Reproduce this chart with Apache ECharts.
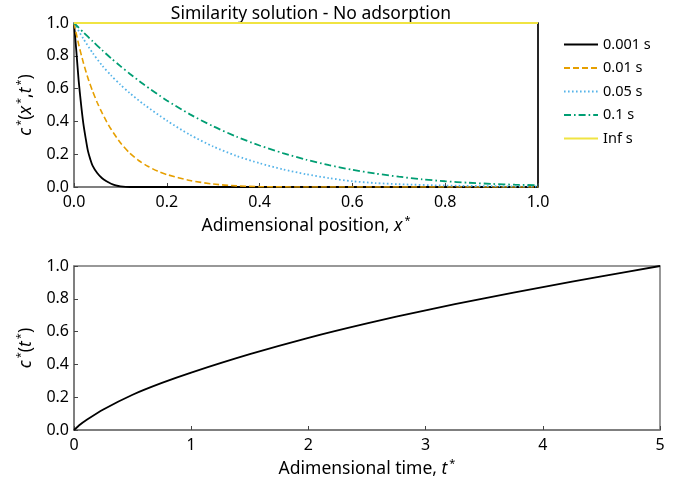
<!DOCTYPE html>
<html>
<head>
<meta charset="utf-8">
<script src="https://cdn.jsdelivr.net/npm/echarts@6/dist/echarts.min.js"></script>
<style>
  html, body { margin: 0; padding: 0; background: #fff; }
  #chart { width: 681px; height: 486px; }
</style>
</head>
<body>
<div id="chart"></div>
<script>
const FONT = 'Noto Sans';

// Concentration profiles c*(x*, t*) at several times
const seriesNames = ['0.001 s', '0.01 s', '0.05 s', '0.1 s', 'Inf s'];

const xT1 = [0, 0.005, 0.01, 0.015, 0.02, 0.025, 0.03, 0.035, 0.04, 0.05, 0.06, 0.07, 0.08, 0.09, 0.10, 0.12, 1.0];
const cT1 = [1.0, 0.83, 0.65, 0.51, 0.39, 0.30, 0.22, 0.17, 0.13, 0.085, 0.055, 0.035, 0.02, 0.01, 0.004, 0.0, 0.0];

const xT2 = [0, 0.01, 0.02, 0.03, 0.04, 0.05, 0.06, 0.07, 0.08, 0.10, 0.12, 0.14, 0.16, 0.18, 0.20, 0.25, 0.30, 0.35, 0.40, 0.50, 1.0];
const cT2 = [1.0, 0.87, 0.76, 0.665, 0.585, 0.515, 0.455, 0.40, 0.352, 0.27, 0.207, 0.16, 0.125, 0.097, 0.076, 0.04, 0.018, 0.007, 0.002, 0.0, 0.0];

const xT3 = [0, 0.02, 0.04, 0.06, 0.08, 0.10, 0.12, 0.15, 0.20, 0.25, 0.30, 0.35, 0.40, 0.45, 0.50, 0.55, 0.60, 0.65, 0.70, 0.80, 0.90, 1.0];
const cT3 = [1.0, 0.905, 0.818, 0.743, 0.680, 0.624, 0.573, 0.505, 0.405, 0.318, 0.247, 0.190, 0.145, 0.108, 0.078, 0.054, 0.035, 0.024, 0.017, 0.009, 0.005, 0.003];

const xT4 = [0, 0.02, 0.04, 0.06, 0.08, 0.10, 0.12, 0.15, 0.20, 0.25, 0.30, 0.35, 0.40, 0.45, 0.50, 0.55, 0.60, 0.65, 0.70, 0.75, 0.80, 0.85, 0.90, 0.95, 1.0];
const cT4 = [1.0, 0.944, 0.889, 0.836, 0.785, 0.737, 0.691, 0.626, 0.528, 0.443, 0.370, 0.307, 0.253, 0.207, 0.167, 0.133, 0.105, 0.082, 0.063, 0.047, 0.035, 0.026, 0.019, 0.014, 0.011];

const xInf = [0, 1.0];
const cInf = [1.0, 1.0];

// Concentration over time c*(t*)
const tValues = [0, 0.05, 0.1, 0.25, 0.5, 0.75, 1, 1.5, 2, 2.5, 3, 3.5, 4, 4.5, 5];
const cOfT = [0, 0.032, 0.058, 0.125, 0.215, 0.287, 0.35, 0.462, 0.562, 0.650, 0.730, 0.803, 0.871, 0.937, 1.0];

const pairs = (xs, ys) => xs.map((x, i) => [x, ys[i]]);

const frameColor = '#777';
const tickStyle = { show: true, inside: true, length: 4, lineStyle: { color: '#444', width: 1 } };
const labelStyle = { color: '#000', fontSize: 16, fontFamily: FONT };
const nameRich = {
  n: { fontSize: 17.5, fontFamily: FONT, color: '#000', lineHeight: 22 },
  i: { fontSize: 17.5, fontFamily: FONT, color: '#000', fontStyle: 'italic', lineHeight: 22 },
  s: { fontSize: 11, fontFamily: FONT, color: '#000', verticalAlign: 'top', lineHeight: 13, padding: [0, 0, 0, 2] }
};

const styles = [
  { color: '#000000', type: 'solid', width: 1.8 },
  { color: '#E69F00', type: [6, 3], width: 1.6 },
  { color: '#56B4E9', type: [1.6, 2.4], width: 1.8 },
  { color: '#009E73', type: [7, 3, 1.6, 3], width: 1.8 },
  { color: '#F0E442', type: 'solid', width: 1.8 }
];
const profileData = [pairs(xT1, cT1), pairs(xT2, cT2), pairs(xT3, cT3), pairs(xT4, cT4), pairs(xInf, cInf)];

const chart = echarts.init(document.getElementById('chart'), null, { renderer: 'canvas' });

chart.setOption({
  animation: false,
  backgroundColor: '#fff',
  title: {
    text: 'Similarity solution - No adsorption',
    left: 306, top: 0, textAlign: 'center',
    textStyle: { fontSize: 17.5, fontWeight: 'normal', fontFamily: FONT, color: '#000' }
  },
  legend: {
    orient: 'vertical', left: 563, top: 37, padding: 0,
    itemWidth: 34, itemHeight: 14, itemGap: 8.5,
    data: seriesNames,
    itemStyle: { opacity: 0 },
    textStyle: { fontSize: 14.5, fontFamily: FONT, color: '#000' }
  },
  grid: [
    { left: 74, top: 23, width: 464, height: 164, show: true, borderColor: frameColor, borderWidth: 1.5, backgroundColor: 'transparent' },
    { left: 74, top: 266, width: 586, height: 164, show: true, borderColor: frameColor, borderWidth: 1.5, backgroundColor: 'transparent' }
  ],
  xAxis: [
    {
      type: 'value', gridIndex: 0, min: 0, max: 1, interval: 0.2,
      axisLine: { show: true, onZero: false, lineStyle: { color: frameColor, width: 1.5 } },
      axisTick: tickStyle, splitLine: { show: false },
      axisLabel: Object.assign({ formatter: v => v.toFixed(1), margin: 7 }, labelStyle),
      name: '{n|Adimensional position, }{i|x}{s|*}', nameLocation: 'middle', nameGap: 28,
      nameTextStyle: { rich: nameRich }
    },
    {
      type: 'value', gridIndex: 1, min: 0, max: 5, interval: 1,
      axisLine: { show: true, onZero: false, lineStyle: { color: frameColor, width: 1.5 } },
      axisTick: tickStyle, splitLine: { show: false },
      axisLabel: Object.assign({ formatter: v => String(v), margin: 7 }, labelStyle),
      name: '{n|Adimensional time, }{i|t}{s|*}', nameLocation: 'middle', nameGap: 28,
      nameTextStyle: { rich: nameRich }
    }
  ],
  yAxis: [
    {
      type: 'value', gridIndex: 0, min: 0, max: 1, interval: 0.2,
      axisLine: { show: true, onZero: false, lineStyle: { color: frameColor, width: 1.5 } },
      axisTick: tickStyle, splitLine: { show: false },
      axisLabel: Object.assign({ formatter: v => v.toFixed(1), margin: 5 }, labelStyle),
      name: '{i|c}{s|*}{n|(}{i|x}{s|*}{n|,}{i|t}{s|*}{n|)}', nameLocation: 'middle', nameGap: 34,
      nameTextStyle: { rich: nameRich }
    },
    {
      type: 'value', gridIndex: 0, min: 0, max: 1, position: 'right',
      axisLine: { show: true, onZero: false, lineStyle: { color: '#000', width: 1.5 } },
      axisTick: { show: false }, axisLabel: { show: false }, splitLine: { show: false }
    },
    {
      type: 'value', gridIndex: 1, min: 0, max: 1, interval: 0.2,
      axisLine: { show: true, onZero: false, lineStyle: { color: frameColor, width: 1.5 } },
      axisTick: tickStyle, splitLine: { show: false },
      axisLabel: Object.assign({ formatter: v => v.toFixed(1), margin: 5 }, labelStyle),
      name: '{i|c}{s|*}{n|(}{i|t}{s|*}{n|)}', nameLocation: 'middle', nameGap: 34,
      nameTextStyle: { rich: nameRich }
    }
  ],
  series: seriesNames.map((name, k) => ({
    name, type: 'line', xAxisIndex: 0, yAxisIndex: 0,
    data: profileData[k], showSymbol: false, symbol: 'none',
    smooth: 0.25,
    lineStyle: styles[k], itemStyle: { color: styles[k].color },
    z: 3 + k
  })).concat([{
    name: 'c(t)', type: 'line', xAxisIndex: 1, yAxisIndex: 2,
    data: pairs(tValues, cOfT), showSymbol: false, symbol: 'none',
    smooth: 0.25,
    lineStyle: { color: '#000', width: 1.8 }, itemStyle: { color: '#000' }
  }])
});
</script>
</body>
</html>
